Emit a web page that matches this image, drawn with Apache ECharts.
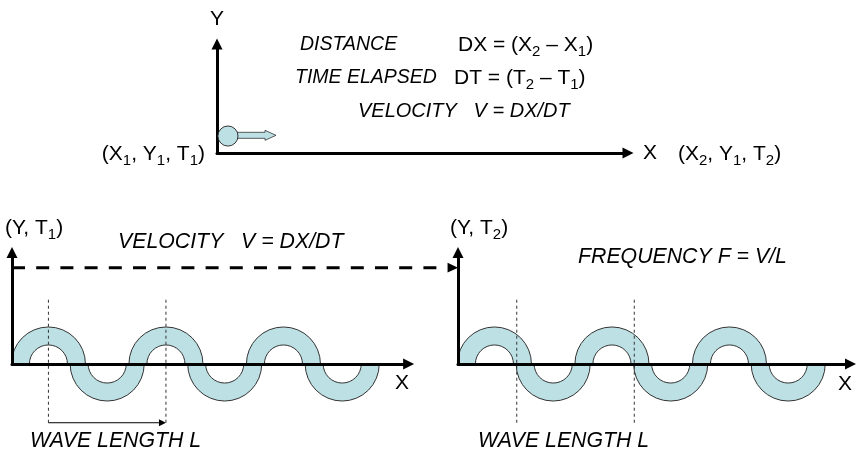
<!DOCTYPE html>
<html><head><meta charset="utf-8">
<script src="https://cdn.jsdelivr.net/npm/echarts@6/dist/echarts.min.js"></script>
<style>html,body{margin:0;padding:0;background:#fff}#c{width:858px;height:452px}</style>
</head><body><div id="c"></div>
<script>
// ---------------- data ----------------
// Top panel: particle moving along X (arbitrary distance units)
const topXRange = [0, 36];
const topYRange = [0, 9.5];
const ballCenter = [0.96, 1.48];
const ballRadius = 0.88;
const ballArrowEnd = 5.17;

// Wave panels (units of one wavelength L)
const ringCenters = [0.31, 0.81, 1.31, 1.81, 2.31, 2.81];
const ringSides   = [1, -1, 1, -1, 1, -1];      // 1 = upper half-ring, -1 = lower half-ring
const ringOuter = 0.315;
const ringInner = 0.162;
const leftMarkers  = [0.31, 1.31];
const rightMarkers = [0.5, 1.5];
const markerSpan   = [-0.5, 0.57];
const waveArrowLevel = -0.5;
const velocityLevel = 0.82;
const velocityEnd = 3.796;
const waveXMaxLeft = 3.375, waveXMaxRight = 3.34, waveYMax = 0.95;

// ---------------- styles ----------------
const FONT = '"Liberation Sans", Arial, Helvetica, sans-serif';
const RING_FILL = '#bde0e5';
const INK = '#000';

const chart = echarts.init(document.getElementById('c'), null, {renderer: 'canvas'});

function axis(gridIndex, min, max) {
  return {
    type: 'value', gridIndex, min, max, z: 3,
    axisLine: {show: true, onZero: true, symbol: ['none', 'triangle'], symbolSize: [11, 11],
      lineStyle: {color: INK, width: 3}},
    axisTick: {show: false}, axisLabel: {show: false}, splitLine: {show: false}
  };
}

const ringData = ringCenters.map((c, i) => [c, ringSides[i]]);
function renderRing(params, api) {
  const c = api.coord([api.value(0), 0]);
  const ro = api.size([ringOuter, 0])[0];
  const ri = api.size([ringInner, 0])[0];
  const up = api.value(1) > 0;
  return {
    type: 'sector',
    shape: {cx: c[0], cy: c[1], r: ro, r0: ri,
      startAngle: up ? Math.PI : 0, endAngle: up ? Math.PI * 2 : Math.PI, clockwise: true},
    style: {fill: RING_FILL, stroke: '#333', lineWidth: 1}
  };
}
function renderMarker(params, api) {
  const a = api.coord([api.value(0), markerSpan[0]]);
  const b = api.coord([api.value(0), markerSpan[1]]);
  return {type: 'line', shape: {x1: a[0], y1: a[1], x2: b[0], y2: b[1]},
    style: {stroke: '#333', lineWidth: 1, lineDash: [3, 3]}};
}
function renderHArrow(params, api) {
  const a = api.coord([api.value(0), api.value(2)]);
  const b = api.coord([api.value(1), api.value(2)]);
  const heavy = api.value(3) > 0;
  const hl = heavy ? 10.5 : 7, hw = heavy ? 4.8 : 3.5;
  return {type: 'group', children: [
    {type: 'line', shape: {x1: a[0], y1: a[1], x2: b[0] - hl, y2: b[1]},
      style: {stroke: INK, lineWidth: heavy ? 3 : 1, lineDash: heavy ? [13, 11.2] : null}},
    {type: 'polygon', shape: {points: [[b[0], b[1]], [b[0] - hl, b[1] - hw], [b[0] - hl, b[1] + hw]]},
      style: {fill: INK}}
  ]};
}
function renderBall(params, api) {
  const c = api.coord([api.value(0), api.value(1)]);
  const r = api.size([api.value(2), 0])[0];
  const t = api.coord([api.value(3), api.value(1)]);
  const y = c[1] - 0.7, sx = c[0] + r - 1, hx = t[0] - 11, tx = t[0];
  return {type: 'group', children: [
    {type: 'polygon', shape: {points: [[sx, y - 3], [hx, y - 3], [hx, y - 5], [tx, y],
      [hx, y + 5], [hx, y + 3], [sx, y + 3]]},
      style: {fill: RING_FILL, stroke: '#333', lineWidth: 0.8}},
    {type: 'circle', shape: {cx: c[0], cy: c[1], r: r},
      style: {fill: RING_FILL, stroke: '#333', lineWidth: 1}}
  ]};
}

const rich = {
  n: {fontSize: 21, lineHeight: 28, fontFamily: FONT, fill: INK},
  t: {fontSize: 19.5, lineHeight: 28, fontFamily: FONT, fontStyle: 'italic', fill: INK},
  v: {fontSize: 20, lineHeight: 28, fontFamily: FONT, fontStyle: 'italic', fill: INK},
  i: {fontSize: 21.3, lineHeight: 28, fontFamily: FONT, fontStyle: 'italic', fill: INK},
  s: {fontSize: 15, lineHeight: 15, fontFamily: FONT, fill: INK, verticalAlign: 'bottom'}
};
function txt(x, y, text, align) {
  return {type: 'text', x, y, z: 10,
    style: {text, rich, align: align || 'left', verticalAlign: 'middle', fill: INK}};
}

const texts = [
  txt(300, 45, '{t|DISTANCE}'),
  txt(458, 45, '{n|DX = (X}{s|2}{n| – X}{s|1}{n|)}'),
  txt(295, 78, '{t|TIME ELAPSED}'),
  txt(454, 78, '{n|DT = (T}{s|2}{n| – T}{s|1}{n|)}'),
  txt(358, 111, '{v|VELOCITY   V = DX/DT}'),
  txt(217, 19, '{n|Y}', 'center'),
  txt(205, 154, '{n|(X}{s|1}{n|, Y}{s|1}{n|, T}{s|1}{n|)}', 'right'),
  txt(650, 153, '{n|X}', 'center'),
  txt(678, 154, '{n|(X}{s|2}{n|, Y}{s|1}{n|, T}{s|2}{n|)}'),
  txt(5, 228, '{n|(Y, T}{s|1}{n|)}'),
  txt(118, 242, '{i|VELOCITY   V = DX/DT}'),
  txt(450, 228, '{n|(Y, T}{s|2}{n|)}'),
  txt(578, 257, '{i|FREQUENCY F = V/L}'),
  txt(402, 383, '{n|X}', 'center'),
  txt(845, 384, '{n|X}', 'center'),
  txt(30, 441, '{i|WAVE LENGTH L}'),
  txt(478, 441, '{i|WAVE LENGTH L}')
];

chart.setOption({
  animation: false,
  backgroundColor: '#fff',
  grid: [
    {left: 217, top: 44, width: 411, height: 109},
    {left: 12, top: 252.4, width: 396.6, height: 111.6},
    {left: 458, top: 252.4, width: 392.5, height: 111.6}
  ],
  xAxis: [axis(0, topXRange[0], topXRange[1]), axis(1, 0, waveXMaxLeft), axis(2, 0, waveXMaxRight)],
  yAxis: [axis(0, topYRange[0], topYRange[1]), axis(1, 0, waveYMax), axis(2, 0, waveYMax)],
  series: [
    {type: 'custom', xAxisIndex: 0, yAxisIndex: 0, z: 4, clip: false,
      data: [[ballCenter[0], ballCenter[1], ballRadius, ballArrowEnd]], renderItem: renderBall},
    {type: 'custom', xAxisIndex: 1, yAxisIndex: 1, z: 2, clip: false, data: ringData, renderItem: renderRing},
    {type: 'custom', xAxisIndex: 2, yAxisIndex: 2, z: 2, clip: false, data: ringData, renderItem: renderRing},
    {type: 'custom', xAxisIndex: 1, yAxisIndex: 1, z: 4, clip: false,
      data: leftMarkers.map(m => [m]), renderItem: renderMarker},
    {type: 'custom', xAxisIndex: 2, yAxisIndex: 2, z: 4, clip: false,
      data: rightMarkers.map(m => [m]), renderItem: renderMarker},
    {type: 'custom', xAxisIndex: 1, yAxisIndex: 1, z: 4, clip: false,
      data: [[leftMarkers[0], leftMarkers[1], waveArrowLevel, 0], [0, velocityEnd, velocityLevel, 1]],
      renderItem: renderHArrow}
  ],
  graphic: texts
});
</script></body></html>
